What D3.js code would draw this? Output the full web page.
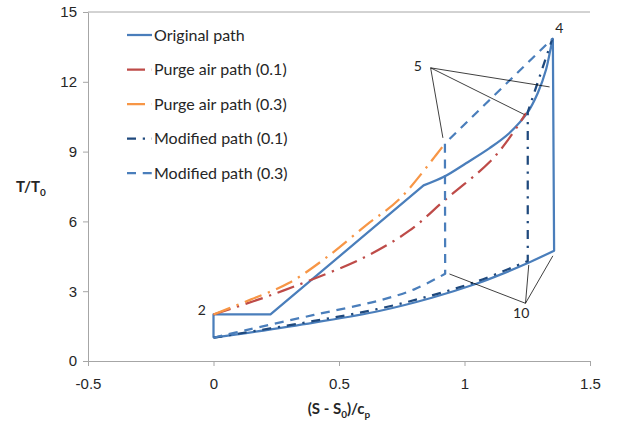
<!DOCTYPE html>
<html>
<head>
<meta charset="utf-8">
<script src="https://cdn.jsdelivr.net/npm/d3@7"></script>
<style>
body { margin: 0; background: #fff; }
svg { font-family: Lato, "Open Sans", sans-serif; }
</style>
</head>
<body>
<svg width="618" height="430"></svg>
<script>
var xTicks = [-0.5, 0, 0.5, 1, 1.5];
var yTicks = [0, 3, 6, 9, 12, 15];
var seriesNames = ["Original path", "Purge air path (0.1)", "Purge air path (0.3)", "Modified path (0.1)", "Modified path (0.3)"];

// (S - S0)/cp and T/T0; corners = indices where the line turns sharply
var origS = [0, 0, 0.227, 0.837, 0.92, 1.006, 1.10, 1.179, 1.25, 1.292, 1.325, 1.345, 1.352, 1.357, 1.25, 1.14, 1.05, 0.87, 0.66, 0.40, 0.13, 0];
var origT = [1.0, 2.0, 2.0, 7.55, 7.93, 8.5, 9.15, 9.8, 10.66, 11.52, 12.53, 13.53, 13.85, 4.74, 4.2, 3.7, 3.33, 2.72, 2.15, 1.65, 1.2, 1.0];
var origCorners = [0, 1, 2, 3, 12, 13, 21];

var purge1S = [0, 0.2, 0.38, 0.6, 0.78, 0.92, 1.1, 1.18, 1.245];
var purge1T = [2.0, 2.72, 3.45, 4.45, 5.6, 6.9, 8.55, 9.6, 10.65];
var purge1Corners = [0, 8];

var purge3S = [0, 0.15, 0.3, 0.45, 0.61, 0.74, 0.89, 0.922];
var purge3T = [2.0, 2.65, 3.35, 4.45, 5.85, 6.95, 8.9, 9.35];
var purge3Corners = [0, 7];

var mod1S = [0, 0.4, 0.66, 0.87, 1.05, 1.252, 1.252, 1.35];
var mod1T = [1.0, 1.72, 2.25, 2.82, 3.42, 4.3, 10.7, 13.85];
var mod1Corners = [0, 5, 6, 7];

var mod3S = [0, 0.13, 0.4, 0.66, 0.8, 0.923, 0.922, 1.35];
var mod3T = [1.0, 1.33, 1.98, 2.6, 3.08, 3.75, 9.35, 13.85];
var mod3Corners = [0, 5, 6, 7];

// state labels and the points their leader lines go to
var label5 = [0.814, 12.67], label5From = [0.865, 12.6];
var label5To = [[0.914, 9.59], [1.239, 10.59], [1.339, 11.78]];
var label10 = [1.226, 2.05], label10From = [1.243, 2.48];
var label10To = [[0.94, 3.74], [1.256, 4.13], [1.352, 4.52]];
var label4 = [1.378, 14.29], label2 = [-0.03, 2.2];

var svg = d3.select("svg"),
	margin = {top: 12, right: 28, bottom: 69, left: 88},
	width = +svg.attr("width") - margin.left - margin.right,
	height = +svg.attr("height") - margin.top - margin.bottom,
	g = svg.append("g").attr("transform", "translate(" + margin.left + "," + margin.top + ")");

var x = d3.scaleLinear().domain([-0.5, 1.5]).range([0, width]);
var y = d3.scaleLinear().domain([0, 15]).range([height, 0]);

var series = [
	{s: origS, t: origT, corners: origCorners, color: "#4A7EBB", dash: null},
	{s: purge1S, t: purge1T, corners: purge1Corners, color: "#BE4B48", dash: "18,6.75,2.25,6.75"},
	{s: purge3S, t: purge3T, corners: purge3Corners, color: "#F79646", dash: "18,6.75,2.25,6.75"},
	{s: mod1S, t: mod1T, corners: mod1Corners, color: "#1F497D", dash: "9,6.75,2.25,6.75"},
	{s: mod3S, t: mod3T, corners: mod3Corners, color: "#4A7EBB", dash: "9,6.75"}
];

// top border line
g.append("line")
	.attr("x1", 0).attr("x2", width)
	.attr("y1", y(15)).attr("y2", y(15))
	.attr("stroke", "#A6A6A6");

var yAxis = g.append("g")
	.call(d3.axisLeft(y).tickValues(yTicks).tickSize(5).tickSizeOuter(0).tickPadding(6).tickFormat(String));
var xAxis = g.append("g")
	.attr("transform", "translate(0," + y(0) + ")")
	.call(d3.axisBottom(x).tickValues(xTicks).tickSize(5).tickSizeOuter(0).tickPadding(12).tickFormat(String));

[yAxis, xAxis].forEach(function (a) {
	a.select(".domain").attr("stroke", "#A6A6A6");
	a.selectAll(".tick line").attr("stroke", "#A6A6A6");
	a.selectAll(".tick text").attr("fill", "#262626").attr("font-size", 15).attr("font-family", null);
});

var smooth = d3.line().curve(d3.curveCatmullRom.alpha(0.5)),
	straight = d3.line();

series.forEach(function (d) {
	var pts = d.s.map(function (v, i) { return [x(v), y(d.t[i])]; });
	var path = "";
	for (var k = 0; k < d.corners.length - 1; k++) {
		var piece = pts.slice(d.corners[k], d.corners[k + 1] + 1);
		var p = piece.length > 2 ? smooth(piece) : straight(piece);
		path += k === 0 ? p : "L" + p.slice(1);
	}
	g.append("path")
		.attr("d", path)
		.attr("fill", "none")
		.attr("stroke", d.color)
		.attr("stroke-width", 2.25)
		.attr("stroke-linejoin", "round")
		.attr("stroke-dasharray", d.dash);
});

// leader lines
function leaders(from, to) {
	to.forEach(function (p) {
		g.append("line")
			.attr("x1", x(from[0])).attr("y1", y(from[1]))
			.attr("x2", x(p[0])).attr("y2", y(p[1]))
			.attr("stroke", "#000").attr("stroke-width", 0.75);
	});
}
leaders(label5From, label5To);
leaders(label10From, label10To);

var labels = [[label5, "5", "middle"], [label10, "10", "middle"], [label4, "4", "middle"], [label2, "2", "end"]];
g.selectAll(".state")
	.data(labels)
	.enter().append("text")
	.attr("x", function (d) { return x(d[0][0]); })
	.attr("y", function (d) { return y(d[0][1]); })
	.attr("dy", "0.35em")
	.attr("text-anchor", function (d) { return d[2]; })
	.attr("font-size", 14)
	.attr("fill", "#262626")
	.text(function (d) { return d[1]; });

// legend
var legend = svg.append("g")
	.selectAll("g")
	.data(series)
	.enter().append("g")
	.attr("transform", function (d, i) { return "translate(127," + (35 + i * 34.5) + ")"; });

legend.append("line")
	.attr("x1", 0).attr("x2", 25)
	.attr("stroke", function (d) { return d.color; })
	.attr("stroke-width", 2.25)
	.attr("stroke-dasharray", function (d) { return d.dash; });

legend.append("text")
	.attr("x", 27)
	.attr("dy", "0.35em")
	.attr("font-size", 16)
	.attr("fill", "#262626")
	.text(function (d, i) { return seriesNames[i]; });

// axis titles
var yTitle = svg.append("text")
	.attr("x", 16).attr("y", 192)
	.attr("font-size", 15).attr("font-weight", "bold").attr("fill", "#262626");
yTitle.append("tspan").text("T/T");
yTitle.append("tspan").attr("font-size", 10).attr("dy", 4).text("0");

var xTitle = svg.append("text")
	.attr("x", margin.left + width / 2).attr("y", 414)
	.attr("text-anchor", "middle")
	.attr("font-size", 15).attr("font-weight", "bold").attr("fill", "#262626");
xTitle.append("tspan").text("(S - S");
xTitle.append("tspan").attr("font-size", 10).attr("dy", 4).text("0");
xTitle.append("tspan").attr("dy", -4).text(")/c");
xTitle.append("tspan").attr("font-size", 10).attr("dy", 4).text("p");
</script>
</body>
</html>
